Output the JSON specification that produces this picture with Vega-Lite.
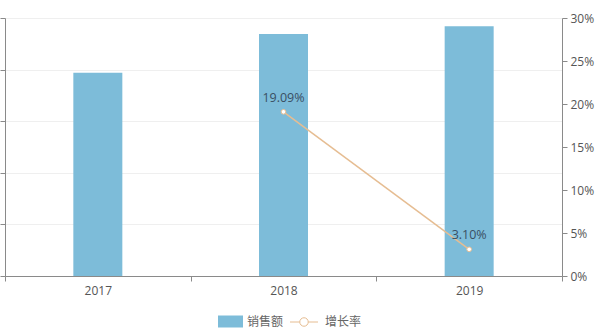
{
  "$schema": "https://vega.github.io/schema/vega-lite/v6.json",
  "width": 557,
  "height": 258,
  "autosize": {"type": "none"},
  "padding": {"left": 5, "top": 18, "right": 49, "bottom": 59},
  "background": "#ffffff",
  "config": {
    "view": {"stroke": null},
    "font": "Open Sans",
    "axis": {
      "labelFont": "Open Sans",
      "labelFontSize": 12,
      "labelColor": "#555555",
      "domainColor": "#8a8a8a",
      "tickColor": "#8a8a8a",
      "gridColor": "#efefef",
      "title": null
    },
    "legend": {"labelFont": "Noto Sans CJK SC", "labelFontSize": 12, "labelColor": "#666666"}
  },
  "data": {
    "values": [
      {"year": "2017", "sales": 197, "rate": null},
      {"year": "2018", "sales": 234.6, "rate": 0.1909},
      {"year": "2019", "sales": 241.9, "rate": 0.031}
    ]
  },
  "encoding": {
    "x": {
      "field": "year",
      "type": "ordinal",
      "scale": {"paddingInner": 0, "paddingOuter": 0},
      "axis": {"labelAngle": 0, "tickBand": "extent", "tickSize": 5, "labelPadding": 4, "grid": false, "domainColor": "#8a8a8a"}
    }
  },
  "layer": [
    {
      "mark": {"type": "bar", "size": 49},
      "encoding": {
        "y": {
          "field": "sales",
          "type": "quantitative",
          "scale": {"domain": [0, 250], "nice": false},
          "axis": {"values": [0, 50, 100, 150, 200, 250], "labels": false, "tickSize": 5, "grid": true, "domain": true}
        },
        "fill": {
          "datum": "销售额",
          "type": "nominal",
          "scale": {"domain": ["销售额"], "range": ["#7dbcd9"]},
          "legend": {
            "title": null,
            "orient": "none",
            "legendX": 213,
            "legendY": 291,
            "direction": "horizontal",
            "symbolSize": 625,
            "symbolType": "M-1,-0.48H1V0.48H-1Z",
            "symbolStrokeWidth": 0,
            "labelOffset": 4
          }
        }
      }
    },
    {
      "layer": [
        {
          "mark": {"type": "line", "strokeWidth": 1.5},
          "encoding": {
            "y": {
              "field": "rate",
              "type": "quantitative",
              "scale": {"domain": [0, 0.3], "nice": false},
              "axis": {"orient": "right", "values": [0, 0.05, 0.1, 0.15, 0.2, 0.25, 0.3], "format": ".0%", "grid": false, "tickSize": 5, "labelPadding": 3}
            },
            "stroke": {
              "datum": "增长率",
              "type": "nominal",
              "scale": {"domain": ["增长率"], "range": ["#e6bd92"]},
              "legend": {
                "title": null,
                "orient": "none",
                "legendX": 286,
                "legendY": 291,
                "direction": "horizontal",
                "symbolSize": 625,
                "symbolType": "M-1.12,0H-0.34M0.34,0H1.12M-0.34,0A0.34,0.34 0 1,0 0.34,0A0.34,0.34 0 1,0 -0.34,0Z",
                "symbolFillColor": "#ffffff",
                "symbolStrokeWidth": 1,
                "labelOffset": 8
              }
            }
          }
        },
        {
          "mark": {"type": "point", "filled": true, "fill": "#ffffff", "stroke": "#e6bd92", "strokeWidth": 1, "size": 22, "opacity": 1},
          "encoding": {
            "y": {"field": "rate", "type": "quantitative"}
          }
        },
        {
          "mark": {"type": "text", "dy": -14, "fontSize": 12.5, "color": "#3a4f63", "font": "Open Sans"},
          "encoding": {
            "y": {"field": "rate", "type": "quantitative"},
            "text": {"field": "rate", "type": "quantitative", "format": ".2%"}
          }
        }
      ]
    }
  ],
  "resolve": {"scale": {"y": "independent"}}
}
